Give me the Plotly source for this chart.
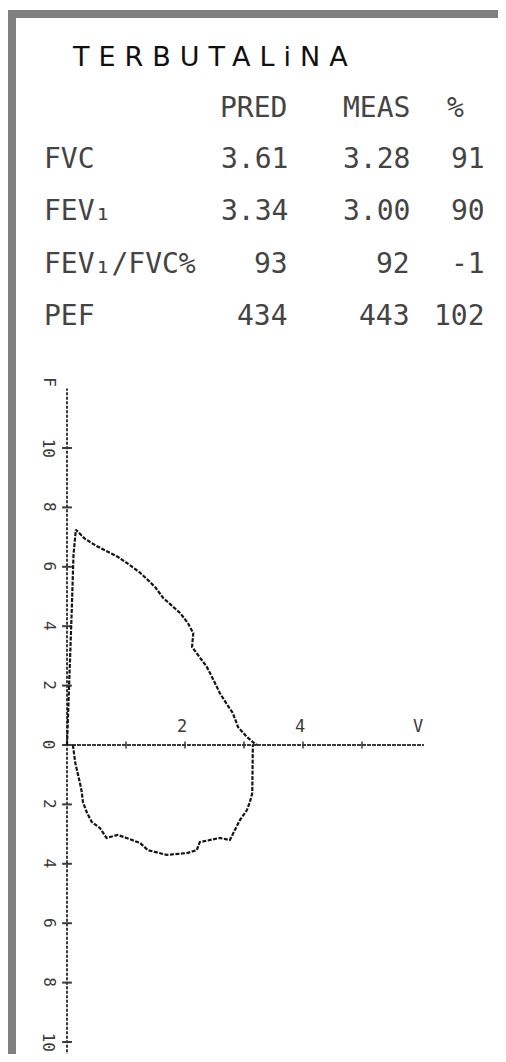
import plotly.graph_objects as go

# ---------------- data ----------------
title_text = "TERBUTALiNA"
col_headers = ["PRED", "MEAS", "%"]
params = ["FVC", "FEV₁", "FEV₁/FVC%", "PEF"]
pred = ["3.61", "3.34", "93", "434"]
meas = ["3.28", "3.00", "92", "443"]
pct = ["91", "90", "-1", "102"]

# expiratory limb (volume L, flow L/s)
exp_vol = [0.00, 0.04, 0.08, 0.11, 0.15, 0.30, 0.50, 0.70, 0.85, 1.00, 1.15, 1.24,
           1.40, 1.50, 1.63, 1.80, 1.92, 2.05, 2.14, 2.12, 2.25, 2.37, 2.48, 2.59,
           2.70, 2.81, 2.90, 3.05, 3.15, 3.22]
exp_flow = [0.00, 2.00, 4.50, 6.40, 7.25, 6.95, 6.70, 6.50, 6.35, 6.15, 5.95, 5.80,
            5.50, 5.30, 4.95, 4.65, 4.44, 4.10, 3.77, 3.30, 2.95, 2.63, 2.20, 1.75,
            1.40, 1.08, 0.60, 0.27, 0.10, 0.00]

# inspiratory limb (flow shown below zero)
insp_vol = [0.10, 0.14, 0.22, 0.25, 0.27, 0.34, 0.42, 0.56, 0.67, 0.86, 1.01, 1.24,
            1.37, 1.69, 2.03, 2.20, 2.25, 2.59, 2.76, 2.85, 2.93, 3.05, 3.10, 3.14,
            3.15, 3.15]
insp_flow = [0.00, -0.60, -1.28, -1.58, -1.92, -2.29, -2.59, -2.80, -3.13, -3.03,
             -3.13, -3.30, -3.54, -3.70, -3.64, -3.54, -3.27, -3.13, -3.20, -2.86,
             -2.53, -2.19, -1.92, -1.62, -0.84, 0.00]

y_ticks = [10, 8, 6, 4, 2, 0, -2, -4, -6, -8, -10]
y_ticktext = ["10", "8", "6", "4", "2", "0", "2", "4", "6", "8", "10"]
y_axis_label = "F"
x_ticks = [2, 4, 6]
x_ticktext = ["2", "4", "V"]
x_extent = [0, 6.05]
y_extent = [-10.5, 12.0]
x_minor = [1, 2, 3, 4, 5]

# ---------------- geometry ----------------
PAGE_W, PAGE_H = 506, 1062
OFF = 8                    # default body margin of the html page
W, H = PAGE_W - 2 * OFF, PAGE_H - 2 * OFF
ox, oy = 67 - OFF, 745 - OFF   # figure pixel of origin
sx, sy = 59.0, 29.7            # px per unit
xr = [-ox / sx, (W - ox) / sx]
yr = [-(H - oy) / sy, oy / sy]

def px(x):
    return (x - OFF) / W

def py(y):
    return 1 - (y - OFF) / H

INK = "#151515"
PRINT = "#3a3a3a"
MONO = "DejaVu Sans Mono"

fig = go.Figure()

# axes
fig.add_trace(go.Scatter(x=[0, 0], y=y_extent, mode="lines",
                         line=dict(color=PRINT, width=2, dash="3px,1.5px"),
                         hoverinfo="skip", showlegend=False))
fig.add_trace(go.Scatter(x=x_extent, y=[0, 0], mode="lines",
                         line=dict(color=PRINT, width=1.8, dash="4px,1px"),
                         hoverinfo="skip", showlegend=False))
fig.add_trace(go.Scatter(x=[0] * len(y_ticks), y=y_ticks, mode="markers",
                         marker=dict(symbol="line-ew", size=7,
                                     line=dict(color=PRINT, width=2)),
                         hoverinfo="skip", showlegend=False))
fig.add_trace(go.Scatter(x=x_minor, y=[0] * len(x_minor), mode="markers",
                         marker=dict(symbol="line-ns", size=5,
                                     line=dict(color=PRINT, width=1.5)),
                         hoverinfo="skip", showlegend=False))

# curves
fig.add_trace(go.Scatter(x=exp_vol, y=exp_flow, mode="lines",
                         line=dict(color=INK, width=2.2, dash="4px,1.5px"),
                         hoverinfo="skip", showlegend=False))
fig.add_trace(go.Scatter(x=insp_vol, y=insp_flow, mode="lines",
                         line=dict(color=INK, width=2.2, dash="4px,1.5px"),
                         hoverinfo="skip", showlegend=False))

ann = []
for v, t in zip(y_ticks, y_ticktext):
    ann.append(dict(x=-0.3, y=v, xref="x", yref="y", text=t, showarrow=False,
                    textangle=90, font=dict(family=MONO, size=16, color=PRINT)))
ann.append(dict(x=-0.3, y=12.2, xref="x", yref="y", text=y_axis_label,
                showarrow=False, textangle=90,
                font=dict(family=MONO, size=16, color=PRINT)))
for v, t in zip(x_ticks, x_ticktext):
    ann.append(dict(x=v - 0.05, y=0.65, xref="x", yref="y", text=t, showarrow=False,
                    font=dict(family=MONO, size=17, color=PRINT)))

# title (handwritten)
ann.append(dict(x=px(70), y=py(56), xref="paper", yref="paper",
                xanchor="left", yanchor="middle", showarrow=False,
                text='<span style="letter-spacing:9px">' + title_text + '</span>',
                font=dict(family="DejaVu Sans", size=27, color="#111")))

# table
tfont = dict(family=MONO, size=28, color="#444")
col_right = [289, 412, 466]
for t, xr_ in zip(col_headers, col_right):
    ann.append(dict(x=px(xr_), y=py(107), xref="paper", yref="paper",
                    xanchor="right", yanchor="middle", text=t, showarrow=False,
                    font=tfont))
row_y = [158, 210, 263, 315]
val_right = [290, 412, 487]
for i, yy in enumerate(row_y):
    ann.append(dict(x=px(42), y=py(yy), xref="paper", yref="paper",
                    xanchor="left", yanchor="middle", text=params[i],
                    showarrow=False, font=tfont))
    for col, xr_ in zip([pred, meas, pct], val_right):
        ann.append(dict(x=px(xr_), y=py(yy), xref="paper", yref="paper",
                        xanchor="right", yanchor="middle", text=col[i],
                        showarrow=False, font=tfont))

shapes = [
    dict(type="rect", xref="paper", yref="paper", x0=px(7), x1=1,
         y0=py(10), y1=py(18), fillcolor="#808080", line=dict(width=0), layer="above"),
    dict(type="rect", xref="paper", yref="paper", x0=px(7), x1=px(16),
         y0=py(10), y1=0, fillcolor="#808080", line=dict(width=0), layer="above"),
]

fig.update_layout(
    width=W, height=H,
    margin=dict(l=0, r=0, t=0, b=0),
    paper_bgcolor="white", plot_bgcolor="white",
    xaxis=dict(range=xr, visible=False, fixedrange=True),
    yaxis=dict(range=yr, visible=False, fixedrange=True),
    annotations=ann, shapes=shapes, showlegend=False,
)

fig.write_html("out.html")
